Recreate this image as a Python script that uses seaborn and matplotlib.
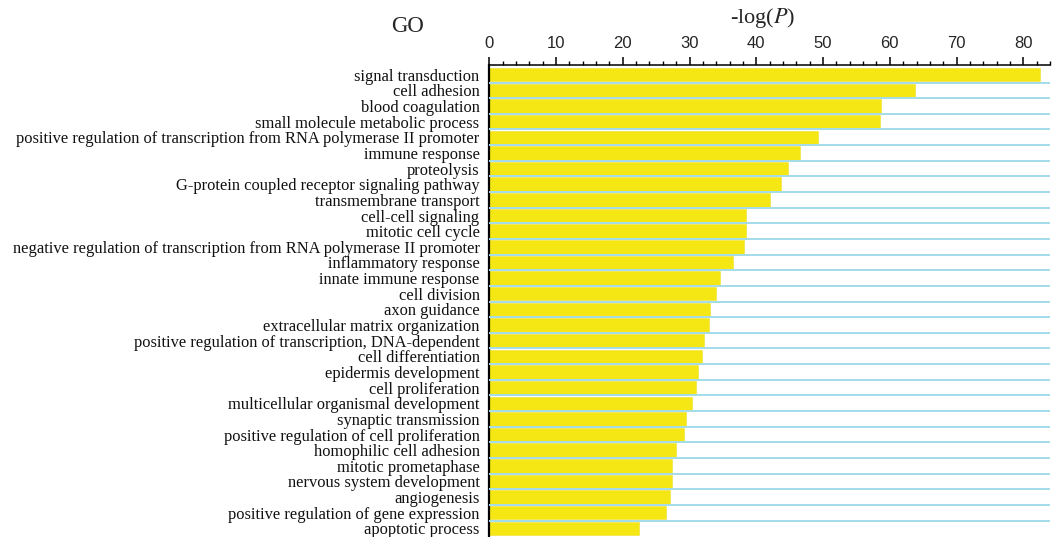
import matplotlib
matplotlib.use("Agg")
import matplotlib.pyplot as plt
from matplotlib.ticker import MultipleLocator, FixedLocator
import seaborn as sns
import pandas as pd

# GO biological process terms, ordered by enrichment
terms = [
    "signal transduction",
    "cell adhesion",
    "blood coagulation",
    "small molecule metabolic process",
    "positive regulation of transcription from RNA polymerase II promoter",
    "immune response",
    "proteolysis",
    "G-protein coupled receptor signaling pathway",
    "transmembrane transport",
    "cell-cell signaling",
    "mitotic cell cycle",
    "negative regulation of transcription from RNA polymerase II promoter",
    "inflammatory response",
    "innate immune response",
    "cell division",
    "axon guidance",
    "extracellular matrix organization",
    "positive regulation of transcription, DNA-dependent",
    "cell differentiation",
    "epidermis development",
    "cell proliferation",
    "multicellular organismal development",
    "synaptic transmission",
    "positive regulation of cell proliferation",
    "homophilic cell adhesion",
    "mitotic prometaphase",
    "nervous system development",
    "angiogenesis",
    "positive regulation of gene expression",
    "apoptotic process",
]

# -log(P) for each term
neg_log_p = [
    82.5, 63.7, 58.7, 58.5, 49.2, 46.6, 44.7, 43.7, 42.1, 38.4,
    38.4, 38.2, 36.5, 34.5, 34.0, 33.1, 32.9, 32.1, 31.8, 31.3,
    31.0, 30.4, 29.4, 29.2, 27.9, 27.3, 27.3, 27.0, 26.4, 22.5,
]

x_ticks = [0, 10, 20, 30, 40, 50, 60, 70, 80]

df = pd.DataFrame({"term": terms, "score": neg_log_p})

sns.set_style("white")
plt.rcParams["font.family"] = ["Liberation Serif", "DejaVu Serif"]
plt.rcParams["mathtext.fontset"] = "stix"

fig = plt.figure(figsize=(10.57, 5.37), dpi=100)
ax = fig.add_axes([0.4629, 0.0, 0.9934 - 0.4629, 1 - 65 / 537])

sns.barplot(data=df, x="score", y="term", orient="h", color="#f4e713",
            saturation=1, width=0.86, edgecolor="#f0e030", linewidth=0.4,
            ax=ax, zorder=2)

ax.set_xlim(0, 84)
ax.set_ylim(len(terms) - 0.45, -0.62)

# x axis on top with major/minor ticks pointing outward
ax.xaxis.tick_top()
ax.xaxis.set_major_locator(FixedLocator(x_ticks))
ax.xaxis.set_minor_locator(MultipleLocator(2))
ax.tick_params(axis="x", which="major", direction="out", length=6, width=1.1,
               color="black", pad=4, labelsize=12, top=True, bottom=False)
ax.tick_params(axis="x", which="minor", direction="out", length=3, width=1.0,
               color="black", top=True, bottom=False)
for lab in ax.get_xticklabels():
    lab.set_fontfamily("Liberation Sans")

# category labels, no tick marks
ax.tick_params(axis="y", which="both", length=0, pad=7, labelsize=11.9,
               labelcolor="#111111")
ax.set_ylabel("")

# separator lines between the bars
ax.yaxis.set_minor_locator(FixedLocator([i + 0.5 for i in range(len(terms) - 1)]))
ax.grid(False)
ax.grid(which="minor", axis="y", color="#a3dcea", linewidth=1.4, zorder=3)
ax.set_axisbelow(False)

for side in ("right", "bottom"):
    ax.spines[side].set_visible(False)
ax.spines["left"].set_color("black")
ax.spines["left"].set_linewidth(1.6)
ax.spines["top"].set_color("black")
ax.spines["top"].set_linewidth(1.1)

ax.set_xlabel("-log($P$)", fontsize=16)
ax.xaxis.set_label_position("top")
ax.xaxis.set_label_coords(0.488, (537 - 30) / 472)
ax.xaxis.label.set_verticalalignment("bottom")

fig.text(408 / 1057, 1 - 26 / 537, "GO", fontsize=16.5, ha="center", va="center")

fig.savefig("out.png", dpi=100)
